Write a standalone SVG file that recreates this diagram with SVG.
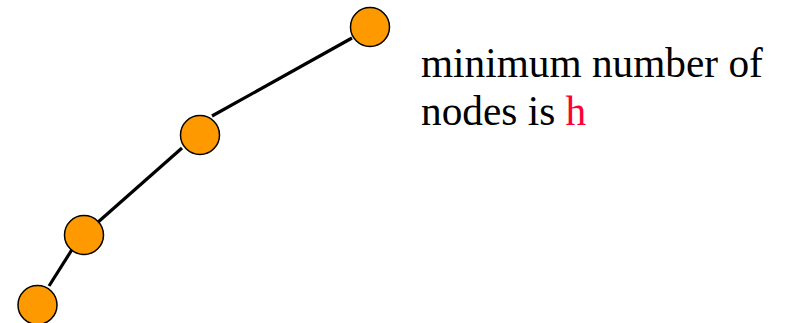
<svg xmlns="http://www.w3.org/2000/svg" width="790" height="323" viewBox="0 0 790 323">
<style>
.node{fill:#FF9900;stroke:#000;stroke-width:1.5}
.edge{stroke:#000;stroke-width:3.2;fill:none}
.lbl{font-family:"Liberation Serif","Times New Roman",serif;font-size:41.3px;fill:#000}
</style>
<rect width="790" height="323" fill="#fff"/>
<g id="connectors">
<line class="edge" x1="352" y1="38" x2="212" y2="116"/>
<line class="edge" x1="182" y1="148" x2="97" y2="223"/>
<line class="edge" x1="73" y1="248" x2="49" y2="286"/>
</g>
<g id="n1"><circle class="node" cx="370" cy="27" r="19.5"/></g>
<g id="n2"><circle class="node" cx="200" cy="135" r="19.5"/></g>
<g id="n3"><circle class="node" cx="84" cy="235" r="19.5"/></g>
<g id="n4"><circle class="node" cx="37.5" cy="305" r="19.5"/></g>
<g id="label">
<text class="lbl" x="421" y="77">minimum number of</text>
<text class="lbl" x="421" y="125">nodes is <tspan fill="#FF0033">h</tspan></text>
</g>
</svg>
